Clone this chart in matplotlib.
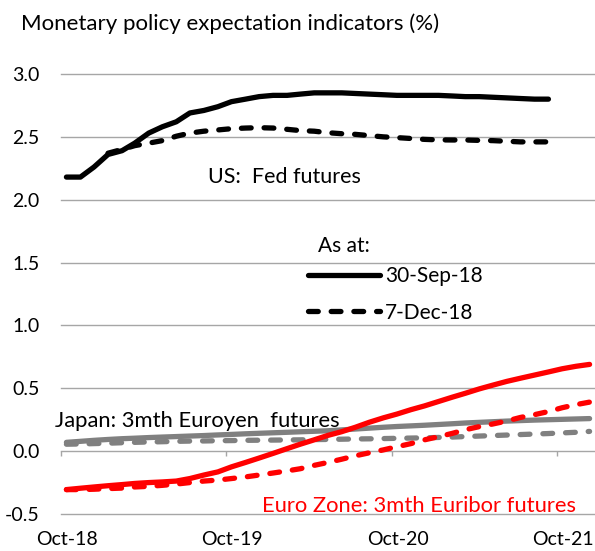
"""Monetary policy expectation indicators: futures-implied rate paths."""

import numpy as np
import pandas as pd
import matplotlib
matplotlib.use("Agg")
import matplotlib.pyplot as plt
from matplotlib.lines import Line2D
from matplotlib.transforms import ScaledTranslation

plt.rcParams.update({
    "font.family": ["Lato", "DejaVu Sans"],
    "font.size": 14,
})

# contract months, mid-month from Oct-18
dates = pd.date_range("2018-10-13", periods=39, freq=pd.DateOffset(months=1))

us_sep = [2.18, 2.18, 2.26, 2.36, 2.39, 2.45, 2.53, 2.58, 2.62, 2.69,
          2.71, 2.74, 2.78, 2.80, 2.82, 2.83, 2.83, 2.84, 2.85, 2.85,
          2.85, 2.845, 2.84, 2.835, 2.83, 2.83, 2.83, 2.83, 2.825, 2.82,
          2.82, 2.815, 2.81, 2.805, 2.80, 2.80]
us_dec = [2.37, 2.40, 2.43, 2.45, 2.47, 2.505, 2.53, 2.545, 2.555, 2.565,
          2.57, 2.573, 2.57, 2.56, 2.55, 2.545, 2.533, 2.525, 2.52, 2.51,
          2.50, 2.494, 2.487, 2.48, 2.476, 2.475, 2.475, 2.472, 2.47, 2.465,
          2.46, 2.46, 2.46]
us_dec_start = 3

ez_sep = [-0.306, -0.295, -0.285, -0.275, -0.266, -0.257, -0.25, -0.245, -0.238, -0.218,
          -0.19, -0.165, -0.125, -0.09, -0.055, -0.018, 0.02, 0.055, 0.09, 0.125,
          0.155, 0.19, 0.23, 0.265, 0.295, 0.33, 0.36, 0.395, 0.43, 0.46,
          0.495, 0.525, 0.555, 0.58, 0.605, 0.63, 0.655, 0.675, 0.69]
ez_dec = [-0.306, -0.306, -0.303, -0.298, -0.294, -0.285, -0.28, -0.272, -0.262, -0.25,
          -0.238, -0.23, -0.218, -0.205, -0.19, -0.174, -0.157, -0.14, -0.113, -0.09,
          -0.064, -0.037, -0.013, 0.01, 0.035, 0.06, 0.09, 0.115, 0.142, 0.17,
          0.195, 0.216, 0.24, 0.268, 0.29, 0.315, 0.345, 0.37, 0.39]

jp_sep = [0.07, 0.078, 0.086, 0.093, 0.099, 0.103, 0.108, 0.112, 0.116, 0.12,
          0.124, 0.129, 0.133, 0.138, 0.142, 0.146, 0.15, 0.154, 0.158, 0.162,
          0.169, 0.176, 0.183, 0.19, 0.196, 0.201, 0.206, 0.212, 0.218, 0.224,
          0.229, 0.234, 0.239, 0.243, 0.247, 0.25, 0.253, 0.256, 0.259]
jp_dec = [0.055, 0.057, 0.06, 0.063, 0.067, 0.07, 0.073, 0.075, 0.078, 0.08,
          0.081, 0.083, 0.084, 0.086, 0.087, 0.088, 0.089, 0.09, 0.092, 0.093,
          0.095, 0.097, 0.098, 0.1, 0.102, 0.104, 0.106, 0.109, 0.112, 0.116,
          0.12, 0.124, 0.128, 0.132, 0.136, 0.14, 0.145, 0.15, 0.157]

x_ticks = pd.to_datetime(["2018-10-01", "2019-10-01", "2020-10-01", "2021-10-01"])
x_tick_labels = ["Oct-18", "Oct-19", "Oct-20", "Oct-21"]
y_ticks = [-0.5, 0.0, 0.5, 1.0, 1.5, 2.0, 2.5, 3.0]

BLACK = "#000000"
GREY = "#808080"
RED = "#FF0000"
GRID = "#A6A6A6"
LW = 3.8
DASH = (0, (1.85, 2.45))

fig = plt.figure(figsize=(5.95, 5.51), dpi=100)
ax = fig.add_axes([61 / 595, 37 / 551, 534 / 595, 440 / 551])

common = dict(linewidth=LW, solid_capstyle="round", dash_capstyle="round")
ax.plot(dates[:len(jp_dec)], jp_dec, color=GREY, linestyle=DASH, **common)
ax.plot(dates[:len(jp_sep)], jp_sep, color=GREY, **common)
ax.plot(dates[:len(ez_dec)], ez_dec, color=RED, linestyle=DASH, **common)
ax.plot(dates[:len(ez_sep)], ez_sep, color=RED, **common)
ax.plot(dates[us_dec_start:us_dec_start + len(us_dec)], us_dec,
        color=BLACK, linestyle=DASH, **common)
ax.plot(dates[:len(us_sep)], us_sep, color=BLACK, **common)

ax.set_xlim(pd.Timestamp("2018-10-01"), pd.Timestamp("2021-12-25"))
ax.set_ylim(-0.5, 3.0)
ax.set_yticks(y_ticks)
ax.set_yticklabels([f"{v:.1f}" for v in y_ticks])
ax.set_xticks(x_ticks)
ax.set_xticklabels(x_tick_labels)

for v in y_ticks:
    if v != 0.0:
        ax.axhline(v, color=GRID, linewidth=1.0, zorder=0, clip_on=False)

for side in ("top", "right", "left"):
    ax.spines[side].set_visible(False)
ax.spines["bottom"].set_position(("data", 0.0))
ax.spines["bottom"].set_color(GRID)
ax.spines["bottom"].set_linewidth(1.0)
ax.spines["bottom"].set_zorder(0)
ax.tick_params(axis="y", length=0, pad=15.5, labelsize=14)
ax.tick_params(axis="x", length=3.6, width=1.0, color=GRID, direction="out",
               pad=54, labelsize=14)
shift = ScaledTranslation(6 / 100, 0, fig.dpi_scale_trans)
for label in ax.get_xticklabels():
    label.set_transform(label.get_transform() + shift)

fig.text(20.7 / 595, 1 - 30 / 551, "Monetary policy expectation indicators (%)",
         fontsize=16, va="baseline", ha="left")

ax.text(0.275, 0.7516, "US:  Fed futures", transform=ax.transAxes,
        va="baseline", ha="left", fontsize=15.5)
ax.text(-0.011, 0.1984, "Japan: 3mth Euroyen  futures", transform=ax.transAxes,
        va="baseline", ha="left", fontsize=15.8)
ax.text(0.376, 0.0052, "Euro Zone: 3mth Euribor futures", transform=ax.transAxes,
        va="baseline", ha="left", fontsize=15.8, color=RED)
ax.text(0.4817, 0.5961, "As at:", transform=ax.transAxes,
        va="baseline", ha="left", fontsize=15)

handles = [Line2D([], [], color=BLACK, **common),
           Line2D([], [], color=BLACK, linestyle=DASH, **common)]
ax.legend(handles, ["30-Sep-18", "7-Dec-18"], loc="center left",
          bbox_to_anchor=(0.4625, 0.4995), frameon=False, fontsize=15,
          handlelength=3.45, handletextpad=0.24, labelspacing=0.8,
          borderpad=0, borderaxespad=0)

fig.savefig("out.png", dpi=100)
